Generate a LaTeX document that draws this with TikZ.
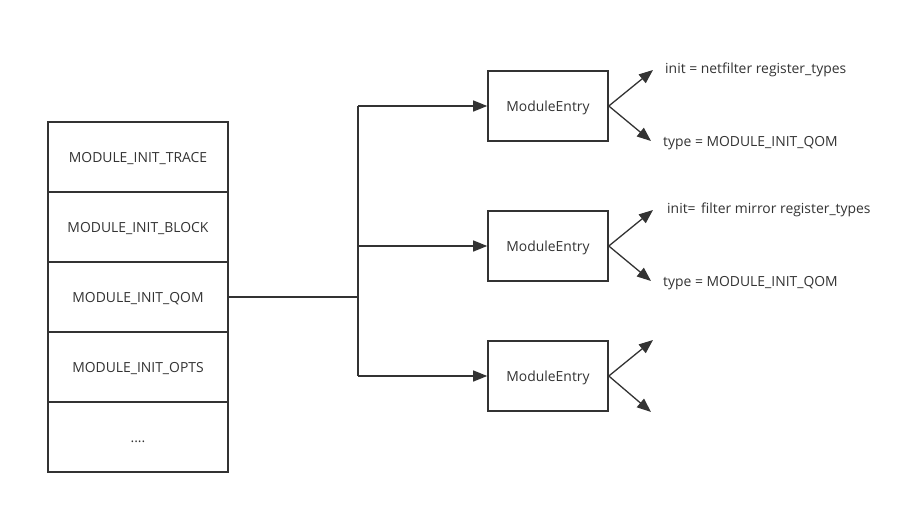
\documentclass[tikz,border=0pt]{standalone}
\usepackage{fontspec}
\setmainfont{Open Sans}
\usetikzlibrary{arrows.meta}
\definecolor{ln}{HTML}{333333}
\begin{document}
\begin{tikzpicture}[x=1pt,y=-1pt,
  txt/.style={font=\fontsize{13.9}{16}\selectfont,text=ln,text height=12pt,text depth=0.5pt},
  cell/.style={txt,draw=ln,line width=1.6pt,minimum width=180pt,minimum height=70pt,inner sep=0pt},
  entry/.style={txt,draw=ln,line width=1.6pt,minimum width=120pt,minimum height=70pt,inner sep=0pt},
  lbl/.style={txt,anchor=west,inner sep=0pt},
  conn/.style={draw=ln,line width=1.3pt},
  arr/.style={conn,-{Triangle[length=14pt,width=11pt]}}]
\useasboundingbox (0,0) rectangle (914,504);
\node[cell] (c1) at (138,157) {MODULE\_INIT\_TRACE};
\node[cell] (c2) at (138,227) {MODULE\_INIT\_BLOCK};
\node[cell] (c3) at (138,297) {MODULE\_INIT\_QOM};
\node[cell] (c4) at (138,367) {MODULE\_INIT\_OPTS};
\node[cell] (c5) at (138,437) {....};
\node[entry] (e1) at (548,106) {ModuleEntry};
\node[entry] (e2) at (548,246) {ModuleEntry};
\node[entry] (e3) at (548,376) {ModuleEntry};
\coordinate (j) at (358,297);
\coordinate (jt) at (358,106);
\coordinate (jb) at (358,376);
\coordinate (jm) at (358,246);
\draw[conn] (c3.east) -- (j);
\draw[conn] (jt) -- (jb);
\draw[arr] (jt) -- (e1.west);
\draw[arr] (jm) -- (e2.west);
\draw[arr] (jb) -- (e3.west);
\coordinate (a1) at (653,70);
\coordinate (b1) at (651,141);
\coordinate (a2) at (653,210);
\coordinate (b2) at (651,281);
\coordinate (a3) at (653,340);
\coordinate (b3) at (651,412);
\draw[arr] (e1.east) -- (a1);
\draw[arr] (e1.east) -- (b1);
\draw[arr] (e2.east) -- (a2);
\draw[arr] (e2.east) -- (b2);
\draw[arr] (e3.east) -- (a3);
\draw[arr] (e3.east) -- (b3);
\node[lbl] (t1) at (665,68) {init = netfilter register\_types};
\node[lbl] (t2) at (663,141) {type = MODULE\_INIT\_QOM};
\node[lbl] (t3) at (667,208) {init=\hspace{2pt} filter mirror register\_types};
\node[lbl] (t4) at (663,281) {type = MODULE\_INIT\_QOM};
\end{tikzpicture}
\end{document}
